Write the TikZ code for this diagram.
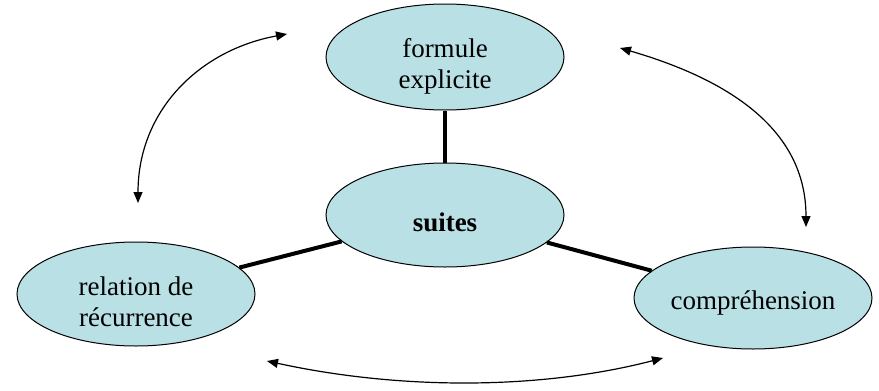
\documentclass[tikz,border=0pt]{standalone}
\usepackage{fontspec}
\setmainfont{Liberation Serif}
\usetikzlibrary{shapes.geometric,arrows.meta}
\definecolor{cellfill}{HTML}{B9E0E4}
\begin{document}
\begin{tikzpicture}[x=1pt,y=-1pt,
  bubble/.style={ellipse,draw=black,line width=1pt,fill=cellfill,minimum width=238pt,minimum height=104pt,inner sep=0pt},
  words/.style={align=center,inner sep=0pt,font=\fontsize{27}{31}\selectfont},
  link/.style={line width=4pt},
  dbl/.style={line width=1.2pt,{Triangle[length=11pt,width=9pt]}-{Triangle[length=11pt,width=9pt]}}]
\useasboundingbox (0,0) rectangle (879,391);
\node[bubble,minimum height=106pt,label={[words,yshift=-9pt]center:{formule\\explicite}}] (top) at (445,57) {};
\node[bubble,label={[words,yshift=-7pt]center:{\textbf{suites}}}] (mid) at (445,215) {};
\node[bubble,label={[words,yshift=-8pt]center:{relation de\\récurrence}}] (left) at (136,294) {};
\node[bubble,minimum height=102pt,label={[words,yshift=-5pt]center:{compréhension}}] (right) at (753,298) {};
\draw[link] (top) -- (mid);
\draw[link] (left) -- (mid);
\draw[link] (mid) -- (right);
\coordinate (a1) at (287,34);
\coordinate (a2) at (138,203);
\coordinate (b1) at (620,48);
\coordinate (b2) at (806,227);
\coordinate (c1) at (267,361);
\coordinate (c2) at (663,358);
\draw[dbl] (a1) .. controls (200,50) and (138,110) .. (a2);
\draw[dbl] (b1) .. controls (730,80) and (806,130) .. (b2);
\draw[dbl] (c1) .. controls (400,390) and (540,390) .. (c2);
\end{tikzpicture}
\end{document}
